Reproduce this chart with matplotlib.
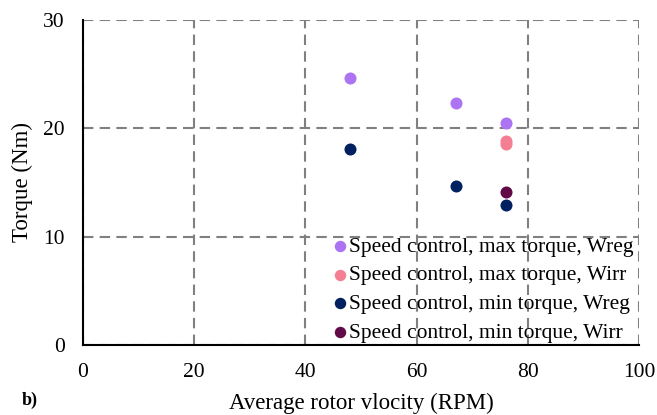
import matplotlib
matplotlib.use('Agg')
import matplotlib.pyplot as plt

plt.rcParams['font.family'] = ['Liberation Serif', 'DejaVu Serif']

# data
max_wreg_x = [48, 67, 76]
max_wreg_y = [24.6, 22.3, 20.5]
max_wirr_x = [76, 76]
max_wirr_y = [18.8, 18.5]
min_wreg_x = [48, 67, 76]
min_wreg_y = [18.1, 14.7, 12.9]
min_wirr_x = [76]
min_wirr_y = [14.1]

series = [
    (max_wreg_x, max_wreg_y, '#AC74F2', 'Speed control, max torque, Wreg'),
    (max_wirr_x, max_wirr_y, '#F47F92', 'Speed control, max torque, Wirr'),
    (min_wreg_x, min_wreg_y, '#002060', 'Speed control, min torque, Wreg'),
    (min_wirr_x, min_wirr_y, '#600A48', 'Speed control, min torque, Wirr'),
]

fig = plt.figure(figsize=(6.57, 4.15), dpi=100)
ax = fig.add_axes([0.126, 0.169, 0.847, 0.783])

for x, y, c, lab in series:
    ax.scatter(x, y, s=75, color=c, label=lab, zorder=3, linewidths=0)

ax.set_xlim(0, 100)
ax.set_ylim(0, 30)
ax.set_xticks([0, 20, 40, 60, 80, 100])
ax.set_yticks([0, 10, 20, 30])
ax.tick_params(axis='x', length=0, labelsize=15.5, pad=13)
ax.tick_params(axis='y', length=0, labelsize=15.5, pad=13)
ax.grid(True, color='#808080', linestyle=(0, (5, 3)), linewidth=1.5)
ax.spines['top'].set_visible(False)
ax.spines['right'].set_visible(False)
for s in ['left', 'bottom']:
    ax.spines[s].set_linewidth(1.5)
    ax.spines[s].set_zorder(4)

ax.set_xlabel('Average rotor vlocity (RPM)', fontsize=16.5, labelpad=8)
ax.set_ylabel('Torque (Nm)', fontsize=16.5, labelpad=7)

ax.legend(loc='lower right', frameon=False, fontsize=15.5, handlelength=1.0,
          handletextpad=-0.1, borderaxespad=0.0, labelspacing=0.4,
          markerscale=0.95, bbox_to_anchor=(1.005, -0.02))

fig.text(0.033, 0.025, 'b)', fontsize=13, fontweight='bold')

fig.savefig('out.png', dpi=100)
